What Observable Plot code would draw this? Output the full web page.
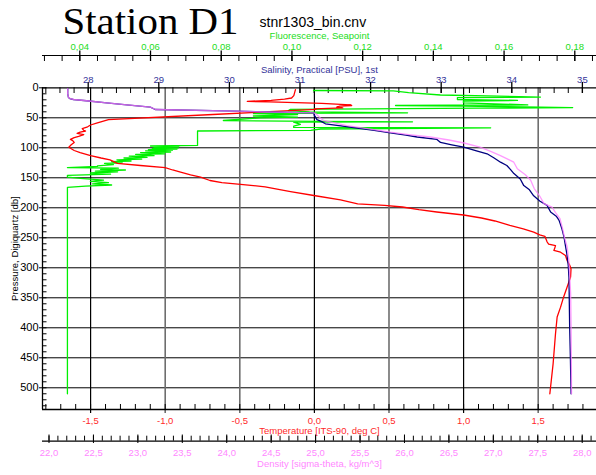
<!DOCTYPE html>
<html><head><meta charset="utf-8">
<script src="https://cdn.jsdelivr.net/npm/d3@7"></script>
<script src="https://cdn.jsdelivr.net/npm/@observablehq/plot@0.6"></script>
<style>html,body{margin:0;padding:0;background:#fff;overflow:hidden}</style>
</head><body><div id="chart"></div>
<script>
// ---------- data ----------
const tempPressure = [3,13,17,19,21,22.5,23.5,26,28.5,29.5,30.5,32,33.5,35,36,44.5,53,56,59,62,65,68,71,72,74,76,78,81,83,86,88,91,95,99,104.5,108,113,117,120,126,129.5,133,137,140.6,145,149,154.5,158,161,165,169,173,179.5,186.7,193.5,196,198.7,203,207,212,217,222,229.5,235,240.6,245,247.5,257,260.7,263,268,271,274,279.5,288,295,301.7,315.6,332,349,365.6,382,410,460,510];
const temperature = [-0.127,-0.138,-0.153,-0.20,-0.29,-0.45,-0.30,0.05,0.24,0.25,0.17,0.15,0.19,0.0,0.01,-0.68,-1.38,-1.42,-1.46,-1.50,-1.52,-1.556,-1.546,-1.534,-1.57,-1.59,-1.546,-1.58,-1.61,-1.635,-1.62,-1.61,-1.63,-1.646,-1.61,-1.57,-1.50,-1.43,-1.37,-1.32,-1.166,-1.0,-0.95,-0.897,-0.83,-0.763,-0.70,-0.62,-0.495,-0.33,-0.25,-0.16,-0.004,0.175,0.29,0.47,0.59,0.70,0.82,1.00,1.12,1.21,1.31,1.40,1.47,1.51,1.545,1.56,1.57,1.616,1.61,1.605,1.65,1.683,1.694,1.71,1.72,1.717,1.694,1.67,1.65,1.627,1.616,1.60,1.578];

const salPressure = [1.5,10,16,18,19.5,22,25,28,32.3,36.2,39,41.7,45,49,53,56,60,63,67,71,75,79,82,86,91,95,99,105,110,117,124,129.5,136,143,152,163,170,180,189,196,207,214,221,235,249,263,277,296,316,360,399,450,510];
const salinity = [27.71,27.71,27.72,27.74,27.79,28.01,28.26,28.51,28.88,28.95,30.10,31.20,31.20,31.22,31.24,31.30,31.36,31.55,31.81,32.05,32.28,32.50,32.66,32.94,32.99,33.15,33.32,33.50,33.65,33.75,33.84,33.93,33.98,34.03,34.12,34.17,34.25,34.31,34.40,34.50,34.55,34.63,34.67,34.71,34.74,34.76,34.78,34.80,34.81,34.815,34.82,34.83,34.84];

const densPressure = [1.5,10,16,18,19.5,22,25,28,32.3,36.2,39,41.7,43,45.7,50,54.5,58,63,68,74,78,82,87,92,99,106,113,118,124,135,145,154,168,180,193,199,208,218,235,249,265,288,315,343,400,510];
const density = [22.21,22.21,22.22,22.24,22.28,22.45,22.65,22.85,23.14,23.20,24.10,24.98,25.00,25.02,25.05,25.09,25.20,25.35,25.58,25.84,26.05,26.29,26.50,26.67,26.85,26.97,27.08,27.15,27.23,27.27,27.36,27.42,27.46,27.52,27.57,27.66,27.70,27.75,27.78,27.80,27.83,27.85,27.86,27.87,27.875,27.88];

const fluorPressure = [4.5,5,8,12,15.5,16.5,19.5,21,22,25,28.5,29.5,30.5,33,34,36,38,40,41.7,42.5,43,44.5,46,47,49,50,54.5,56,56.7,57.3,61,64,66,66.7,68.7,71,72,96,97,98,99,100,101,102,103,104,105,107,108,110,111,113,114,116,117,119,120,122,123,125,126,128,130,131,133,134,136,137,139,140,142,144,146,149,151,154,156,158,160,162,164,166,510];
const fluorescence = [0.1061,0.1287,0.1330,0.1420,0.1703,0.1468,0.1468,0.1638,0.1485,0.1485,0.1667,0.1293,0.1485,0.1794,0.1530,0.0996,0.0990,0.1050,0.1327,0.0950,0.0891,0.1016,0.0950,0.0891,0.1016,0.0911,0.0806,0.1072,0.1341,0.1005,0.1024,0.1005,0.1005,0.1562,0.1081,0.1053,0.0733,0.0733,0.0600,0.0680,0.0610,0.0679,0.0605,0.0675,0.0594,0.0662,0.0586,0.0657,0.0572,0.0640,0.0558,0.0610,0.0540,0.0590,0.0525,0.0575,0.0505,0.0545,0.0490,0.0520,0.0470,0.0495,0.0450,0.0450,0.0365,0.0509,0.0459,0.0529,0.0444,0.0507,0.0430,0.0487,0.0365,0.0365,0.0402,0.0467,0.0430,0.0481,0.0436,0.0490,0.0416,0.0365,0.0365];

// tick labels
const pressureTicks = [0,50,100,150,200,250,300,350,400,450,500];
const temperatureTicks = [-1.5,-1.0,-0.5,0.0,0.5,1.0,1.5];
const salinityTicks = [28,29,30,31,32,33,34,35];
const fluorescenceTicks = [0.04,0.06,0.08,0.10,0.12,0.14,0.16,0.18];
const densityTicks = [22.0,22.5,23.0,23.5,24.0,24.5,25.0,25.5,26.0,26.5,27.0,27.5,28.0];

// ---------- layout ----------
const W = 596, H = 475, mL = 42, mR = 0, mT = 87.3, mB = 66;
const frameH = H - mT - mB;          // 321.7
const bottomY = mT + frameH;          // 409
const xDomain = [-1.8224, 1.8908];    // temperature (primary x scale)
const yMax = 536.2;
// secondary axes expressed in temperature units (calibration of the shared x scale)
const salToT = d3.scaleLinear([28, 35], [-1.5161, 1.7962]);
const densToT = d3.scaleLinear([22, 28], [-1.7788, 1.7950]);
const fluToT = d3.scaleLinear([0.04, 0.18], [-1.5724, 1.7453]);

// vertical tick helper: pixel span [y1, y2] -> insets relative to the frame
const span = (y1, y2) => ({insetTop: y1 - mT, insetBottom: bottomY - y2});

const cGreen = "#00f000", cGreenText = "#22dd22";
const cRed = "#ff0000", cRedText = "#ff2a2a";
const cNavy = "#000080", cNavyText = "#333399";
const cPink = "#ff7dff", cPinkText = "#ff88ff";

const comma = (v, n) => (v < 0 ? "-" : "") + Math.abs(v).toFixed(n).replace(".", ",");

const tempMinor = d3.range(-18, 19).map(i => i / 10);
const salMinor = d3.range(137, 176).map(i => i / 5);
const fluMinor = d3.range(6, 38).map(i => i * 0.005);
const densMinor = d3.range(220, 282).map(i => i / 10);
const pMinor = d3.range(0, 540, 10);
const grayGrid = new Set([-1.0, -0.5, 0.5, 1.5]);

const series = (P, V, f) => P.map((p, i) => ({p, v: f(V[i])}));
const tData = series(tempPressure, temperature, v => v);
const sData = series(salPressure, salinity, salToT);
const dData = series(densPressure, density, densToT);
const fData = series(fluorPressure, fluorescence, fluToT);

const font = "Liberation Sans, Arial, Helvetica, sans-serif";
const mid = {lineAnchor: "middle", textAnchor: "middle"};

const chart = Plot.plot({
  width: W, height: H,
  marginLeft: mL, marginRight: mR, marginTop: mT, marginBottom: mB,
  style: {fontFamily: font, fontSize: "9.5px", background: "#fff", overflow: "visible"},
  x: {domain: xDomain, axis: null},
  y: {domain: [0, yMax], reverse: true, axis: null},
  marks: [
    // grid
    Plot.ruleY(pressureTicks.filter(d => d > 0), {y: d => d, stroke: "#000", strokeWidth: 1}),
    Plot.ruleX(temperatureTicks.filter(d => !grayGrid.has(d)), {x: d => d, stroke: "#000", strokeWidth: 1.2, insetBottom: -4}),
    Plot.ruleX(temperatureTicks.filter(d => grayGrid.has(d)), {x: d => d, stroke: "#6e6e6e", strokeWidth: 1.6, insetBottom: -4}),
    // frame lines
    Plot.ruleY([0], {y: d => d, stroke: "#000", strokeWidth: 1.3}),
    Plot.ruleY([yMax], {y: d => d, stroke: "#000", strokeWidth: 1.3}),
    Plot.ruleX([xDomain[0]], {x: d => d, stroke: "#000", strokeWidth: 1.3}),

    // left axis
    Plot.tickY(pMinor, {y: d => d, insetRight: W - mL - mR - 4.5, stroke: "#000"}),
    Plot.axisY({ticks: pressureTicks, tickSize: 3, tickPadding: 1, fontSize: 11, tickFormat: d => String(d), label: null}),
    Plot.text(["Pressure, Digiquartz [db]"], {text: d => d, frameAnchor: "left", rotate: -90, dx: -28, ...mid, fontSize: 9.5, fill: "#000"}),

    // bottom temperature axis
    Plot.tickX(tempMinor, {x: d => d, ...span(404, bottomY), stroke: "#000"}),
    Plot.text(temperatureTicks, {x: d => d, text: d => comma(d, 1), frameAnchor: "bottom", dy: 11, ...mid, fill: cRedText, fontSize: 9.5}),
    Plot.text(["Temperature [ITS-90, deg C]"], {text: d => d, frameAnchor: "bottom", dy: 21, ...mid, fill: cRedText, fontSize: 9.5}),

    // density axis
    Plot.ruleY([yMax], {y: d => d, dy: 31.7, stroke: "#000", strokeWidth: 1.2}),
    Plot.tickX(densMinor, {x: d => densToT(d), ...span(435.7, 440.7), stroke: "#000"}),
    Plot.tickX(densityTicks, {x: d => densToT(d), ...span(434.5, 443), stroke: "#000"}),
    Plot.text(densityTicks, {x: d => densToT(d), text: d => comma(d, 1), frameAnchor: "bottom", dy: 43.3, ...mid, fill: cPinkText, fontSize: 9.5}),
    Plot.text(["Density [sigma-theta, kg/m^3]"], {text: d => d, frameAnchor: "bottom", dy: 54.3, ...mid, fill: cPinkText, fontSize: 9.5}),

    // salinity axis (top frame)
    Plot.tickX(salMinor, {x: d => salToT(d), ...span(mT, 93), stroke: "#000"}),
    Plot.tickX(salinityTicks, {x: d => salToT(d), ...span(82, 93), stroke: "#000", strokeWidth: 1.3}),
    Plot.text(salinityTicks, {x: d => salToT(d), text: d => String(d), frameAnchor: "top", dy: -8.3, ...mid, fill: cNavyText, fontSize: 9.5}),
    Plot.text(["Salinity, Practical [PSU], 1st"], {text: d => d, frameAnchor: "top", dy: -18.3, ...mid, fill: cNavyText, fontSize: 9.5}),

    // fluorescence axis
    Plot.ruleY([0], {y: d => d, dy: -32.3, stroke: "#000", strokeWidth: 1.2}),
    Plot.tickX(fluMinor, {x: d => fluToT(d), ...span(55, 61), stroke: "#000"}),
    Plot.tickX(fluorescenceTicks, {x: d => fluToT(d), ...span(50.5, 61), stroke: "#000", strokeWidth: 1.3}),
    Plot.text(fluorescenceTicks, {x: d => fluToT(d), text: d => comma(d, 2), frameAnchor: "top", dy: -40.6, ...mid, fill: cGreenText, fontSize: 9.5}),
    Plot.text(["Fluorescence, Seapoint"], {text: d => d, frameAnchor: "top", dy: -52.3, ...mid, fill: cGreenText, fontSize: 9.5}),

    // titles
    Plot.text(["Station D1"], {text: d => d, frameAnchor: "top-left", dx: 20, dy: 33.3 - mT, textAnchor: "start", lineAnchor: "bottom", fontSize: 37, fontFamily: "Liberation Serif, Times New Roman, serif", fill: "#000", className: "main-title"}),
    Plot.text(["stnr1303_bin.cnv"], {text: d => d, frameAnchor: "top-left", dx: 217, dy: 26 - mT, textAnchor: "start", lineAnchor: "bottom", fontSize: 14, fill: "#000"}),

    // profiles
    Plot.line(fData, {x: "v", y: "p", stroke: cGreen, strokeWidth: 1.3}),
    Plot.line(tData, {x: "v", y: "p", stroke: cRed, strokeWidth: 1.3}),
    Plot.line(sData, {x: "v", y: "p", stroke: cNavy, strokeWidth: 1.3}),
    Plot.line(dData, {x: "v", y: "p", stroke: cPink, strokeWidth: 1.3, strokeOpacity: 0.78})
  ]
});
// widen the main title to the reference's width without raising its height
d3.select(chart).selectAll(".main-title text").attr("textLength", 176).attr("lengthAdjust", "spacingAndGlyphs");
document.getElementById("chart").appendChild(chart);
</script></body></html>
